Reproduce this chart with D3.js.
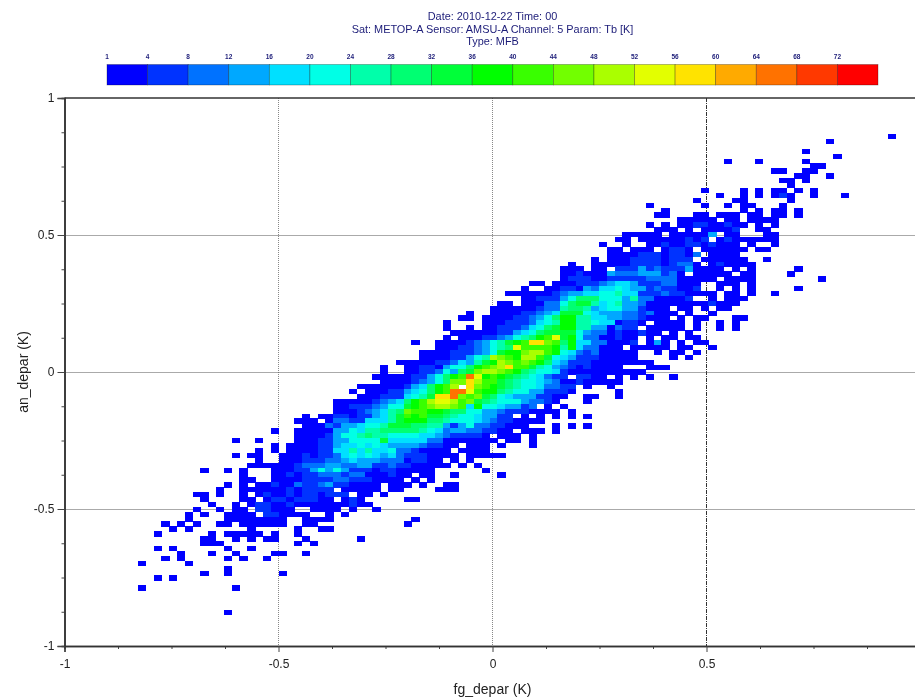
<!DOCTYPE html>
<html lang="en">
<head>
<meta charset="UTF-8">
<title>fg_depar vs an_depar</title>
<script src="https://d3js.org/d3.v7.min.js"></script>
<style>
  html, body { margin: 0; padding: 0; background: #fff; overflow: hidden; }
  svg { display: block; filter: blur(0.35px); font-family: "Liberation Sans", Arial, sans-serif; }
</style>
</head>
<body>
<div id="chart"></div>
<script>
// Header text
const titleLines = [
  "Date: 2010-12-22 Time: 00",
  "Sat: METOP-A Sensor: AMSU-A Channel: 5 Param: Tb [K]",
  "Type: MFB"
];
const xLabel = "fg_depar (K)";
const yLabel = "an_depar (K)";

// Ticks
const xMajor = [-1, -0.5, 0, 0.5];
const yMajor = [-1, -0.5, 0, 0.5, 1];
const xGrid = [-0.5, 0, 0.5];
const yGrid = [-0.5, 0, 0.5];
const minorStep = 0.125;

// Colour classes of the count legend
const legendTicks = [1, 4, 8, 12, 16, 20, 24, 28, 32, 36, 40, 44, 48, 52, 56, 60, 64, 68, 72];
const legendColors = ["#0000ff", "#0033ff", "#0072ff", "#00a8ff", "#00e0ff", "#00ffe6", "#00ffaa", "#00ff72", "#00ff39", "#00ff00",
  "#39ff00", "#72ff00", "#aaff00", "#e3ff00", "#ffe300", "#ffaa00", "#ff7200", "#ff3900", "#ff0000"];

// Histogram bins, in K
const binX0 = -0.99287, binXW = 0.018259;
const binY0 = 0.86861, binYH = 0.017901;

// One line per row of bins from the top: "startColumn:classes ...",
// class is the legend box (base 36, 0 = first box)
const histRows = [
"105:0","97:0","","94:0","98:0","84:0 88:0 94:0","95:00","90:00 94:00","93:00 97:0","91:00 94:0",
"92:0",
"81:0 86:0 88:0 90:00 93:0 95:0",
"83:0 86:0 88:0 90:010 95:0 99:0",
"80:0 85:00 92:0",
"74:0 81:0 84:0 86:00 91:0",
"76:0 86:0 88:0 90:00 93:0",
"75:00 80:00 83:000 87:00 90:00 93:0",
"78:0000 82:0 84:00 87:0000",
"74:0 76:0 78:00110010 86:0 88:0 90:0",
"75:000 79:0 81:00001 88:00",
"71:00000 77:0000 81:03 84:00 89:00",
"70:00 73:000000 79:1 80:0 81:1 83:0 84:1 85:000000",
"68:0 71:0 74:00 76:1 77:00 79:11 81:0 82:1 83:000 87:0 90:0",
"69:00 72:000 76:0 77:11 79:0 81:000000 88:00",
"69:0000 73:1 74:11 76:0 77:11 79:0 80:2 82:0000",
"67:0 69:000 72:11 74:11 76:0 77:11 79:1 81:000000 89:0",
"64:0 67:00000 72:11 74:11 76:0 77:12 79:2 80:0 82:0 83:1 84:0000",
"63:000 67:00 70:111 73:3 74:12 76:1 77:11 79:3 80:0000 85:0 87:0 93:0",
"63:001000 69:32 71:22 73:333 76:12 78:0 80:0000 84:0 86:00 92:0",
"63:0111 67:00 69:1111 73:1 74:22 76:22 78:00000 84:000 87:0 96:0",
"59:00 62:0001 66:11 68:2 69:3 70:44 72:3 73:111 76:22 78:000 83:000 87:0",
"58:0 61:00 63:110 66:32 68:44 70:54 72:33 74:1 75:2 76:11 78:00 80:1 83:0 85:0 87:0 93:0",
"56:0000001 63:233 66:44 68:55 70:6 71:44 73:111 76:2 77:11 79:000 82:0 84:00 87:0 90:0",
"58:00 60:111 63:35 65:777 68:555 71:36 73:22 75:0000 79:1 82:0 84:000",
"55:00 58:000 61:22 63:5 64:7 65:88 67:6 68:4 69:56 71:33 73:2 74:000 77:000000 82:1 83:000",
"54:0000 58:00 60:122 63:6 64:77 66:6 67:34 69:55 71:33 73:1 74:000 78:00 81:0 83:00",
"51:0 54:000 57:01 59:1 60:2 61:34 63:8 64:88 66:5 67:43 69:33 71:22 73:1 74:2 75:000 79:0 82:0",
"50:00 53:000 56:0 57:1 58:1 59:2 60:3 61:5 62:7 63:99 65:6 66:6 67:44 69:33 71:22 73:1 74:000 78:0 80:00 85:00",
"48:0 53:00 55:0 56:1 57:11 59:2 60:4 61:5 62:6 63:99 65:66 67:5 68:44 70:0 71:11 73:0 75:0000 80:0 83:0 85:0",
"48:0 51:0 53:00 55:111 58:2 59:4 60:5 61:7 62:8 63:99 65:66 67:33 69:0 70:2 71:11 74:00000 80:0 83:0 85:0",
"49:0000 53:00 55:11 57:3 58:4 59:5 60:7 61:8 62:8 63:88 65:5 66:3 67:22 69:0 70:1 71:00 73:1 74:00 77:0 79:0",
"48:0 50:000 53:11 55:2 56:3 57:5 58:6 59:7 60:9 61:a 62:d 63:8 64:9 65:5 66:22 68:00 70:1 71:00 74:0 76:00 79:00",
"44:0 47:00 49:0 50:0 51:1 52:2 53:3 54:5 55:6 56:8 57:9 58:a 59:e 60:e 61:b 62:a 63:7 64:9 65:4 66:4 67:22 69:0 70:0 71:0 72:1 74:0 75:3 76:0 78:0 80:00",
"47:00 49:0 50:11 52:2 53:3 54:5 55:6 56:7 57:d 58:a 59:a 60:a 61:a 62:9 63:6 64:9 65:4 66:22 68:000 72:00 74:000 78:00 82:0",
"45:0000 49:111 52:2 53:3 54:5 55:8 56:9 57:9 58:b 59:cc 61:a 62:9 63:5 64:4 65:2 66:12 68:00000 75:0 77:00 80:0",
"45:0000 49:11 51:3 52:5 53:6 54:c 55:b 56:a 57:9 58:c 59:c 60:a 61:8 62:5 63:4 64:3 65:111 68:00000 77:0 79:0",
"42:000 45:00 47:11 49:2 50:4 51:3 52:6 53:8 54:9 55:c 56:b 57:a 58:b 59:a 60:9 61:7 62:4 63:3 64:1 65:1 66:1 67:00000000",
"40:0 43:00 45:1 46:1 47:0 48:3 49:5 50:5 51:7 52:9 53:a 54:b 55:c 56:e 57:a 58:a 59:8 60:6 61:5 62:3 63:2 64:1 65:0 66:1 67:0000 74:000",
"40:0 43:00 45:1 46:1 47:2 48:5 49:3 50:7 51:8 52:b 53:c 54:c 55:b 56:a 57:9 58:7 59:6 60:5 61:5 62:4 63:1 64:000 67:0000000",
"39:0000 43:0 44:1 45:1 46:3 47:5 48:7 49:9 50:a 51:g 52:d 53:9 54:a 55:9 56:8 57:7 58:6 59:5 60:4 61:2 62:11 65:11 67:00 70:0 72:0 74:0 77:0",
"40:000 43:0 44:1 45:2 46:3 47:5 48:7 49:b 50:b 51:e 52:c 53:a 54:a 55:8 56:7 57:6 58:5 59:5 60:4 61:3 62:2 63:0 64:0 65:1 66:00000",
"37:000000 43:1 44:3 45:4 46:7 47:9 48:a 49:c 51:e 52:b 53:a 54:9 55:8 56:7 57:6 58:5 59:5 60:4 61:2 62:2 63:1 64:1 66:0 69:0",
"36:0 38:000 41:1 42:1 43:3 44:4 45:5 46:7 47:9 48:a 49:g 50:g 51:d 52:a 53:9 54:9 55:7 56:6 57:5 58:5 59:3 60:3 61:1 62:1 63:1 64:0 70:0",
"37:000 40:1 41:1 42:1 43:4 44:5 45:6 46:8 47:e 48:e 49:g 50:b 51:a 52:b 53:8 54:7 55:5 56:4 57:3 58:3 59:3 60:1 61:1 62:00 66:00 70:0",
"34:000 37:00 39:1 40:2 41:3 42:4 43:7 44:9 45:a 46:c 47:d 48:d 49:c 50:a 51:b 52:8 53:7 54:6 55:5 56:5 57:5 58:3 59:2 60:2 61:1 62:0 66:0",
"34:00 36:1 37:1 38:1 39:2 40:3 41:5 42:5 43:8 44:9 45:a 46:b 47:c 48:c 49:b 50:a 51:4 52:9 53:5 54:5 55:4 56:3 57:3 58:1 59:2 61:0 63:0",
"34:00 36:0 37:1 38:2 39:3 40:4 41:6 42:7 43:b 44:a 45:a 46:9 47:9 48:8 49:7 50:7 51:5 52:5 53:3 54:3 55:2 56:1 57:1 58:1 59:0000 64:0",
"30:0 32:00 34:1 35:1 36:0 37:1 38:1 39:3 40:4 41:6 42:8 43:a 44:9 45:a 46:8 47:8 48:7 49:6 50:5 51:5 52:4 53:3 54:3 55:11 58:0 60:0 62:0 64:0 66:0",
"29:000 33:0 34:22 36:1 37:1 38:4 39:4 40:4 41:6 42:8 43:9 44:9 45:9 46:7 47:7 48:6 49:5 50:5 51:5 52:4 53:3 54:2 55:1 56:1 57:0000",
"30:000 33:21 35:3 36:3 37:4 38:5 39:5 40:6 41:8 42:8 43:8 44:7 45:7 46:6 47:6 48:3 49:1 50:3 51:5 52:2 53:2 54:1 55:1 56:000 62:0 64:0 66:0",
"26:0 29:00 31:000 34:3 35:3 36:5 37:4 38:6 39:6 40:7 41:7 42:7 43:7 44:7 45:6 46:5 47:4 48:2 49:3 50:3 51:2 52:2 53:1 54:1 55:00 58:000 62:0",
"29:0000 33:1 34:3 35:5 36:5 37:6 38:7 39:6 40:6 41:5 42:5 43:5 44:5 45:4 46:4 47:3 48:2 49:1 50:1 51:1 52:1 53:0 55:000 59:0",
"21:0 24:0 29:000 32:11 34:3 35:3 36:5 37:5 38:5 39:5 40:8 41:4 42:4 43:4 44:4 45:4 46:2 47:2 48:0 49:0 50:0 51:0 52:000 56:00 59:0",
"26:0 28:000 31:0 32:1 33:1 34:3 35:4 36:4 37:5 38:4 39:5 40:4 41:3 42:3 43:3 44:3 45:2 46:1 47:1 48:00 51:000 55:0 59:0",
"24:0 26:0 28:000 31:0 32:1 33:1 34:4 35:4 36:6 37:4 38:6 39:4 40:4 41:5 42:2 43:2 44:1 45:0000 50:000 53:0",
"21:0 23:00 27:00 29:0 30:1 31:0 32:1 33:1 34:2 35:4 36:5 37:4 38:5 39:4 40:3 41:4 42:2 43:1 44:1 45:1 46:0000 51:00000",
"24:0 27:0 28:00 30:11 32:1 33:2 34:2 35:3 36:4 37:3 38:3 39:3 40:2 41:2 42:2 43:0 44:1 45:1 46:0 47:0 49:0 51:0",
"23:000 26:00 28:0 29:1 30:2 31:2 32:2 33:3 34:3 35:2 36:2 37:3 38:3 39:1 40:1 41:2 42:1 43:1 44:000 47:0 48:0 50:0 52:0",
"17:0 20:0 22:0 26:0 27:0 28:0 29:1 30:1 31:3 32:5 33:3 34:5 35:3 36:1 37:1 38:1 39:0 40:1 41:1 42:0 43:0 44:000 53:0",
"22:0 26:00 28:1 29:0 30:1 31:1 32:2 33:2 34:2 35:1 36:2 37:2 38:0 39:0 40:0 41:1 42:0 43:0 45:00 49:0 55:0",
"22:00 26:0 27:0 28:0 29:0 30:1 31:1 32:1 33:1 34:2 35:2 36:1 37:1 38:1 39:0 40:0 41:0 42:0 44:0 46:0",
"20:0 22:0 24:00 26:1 27:0 28:0 29:2 30:1 31:1 32:2 33:3 34:1 35:1 36:0 37:0 38:00 41:00 43:0 45:0 48:00",
"19:0 22:00 24:0 25:00 27:0 28:1 29:0 30:1 31:1 32:1 33:1 35:0 36:0 37:0 38:00 41:00 47:00 49:0",
"16:00 19:0 22:0 24:0 25:1 26:0 27:0 28:1 29:0 30:1 31:1 32:0 33:1 34:1 35:1 37:00 40:0",
"17:0 22:00 25:0 26:1 27:1 28:0 29:1 30:1 31:1 32:0 33:0 35:0 36:1 37:0 43:00",
"18:0 21:0 23:0 24:1 25:1 26:0 27:0 28:1 29:0 30:0 31:0 32:0 33:0 34:0 35:0 36:1 37:0 38:0",
"16:0 19:0 21:00 24:1 25:1 26:0 27:0 28:0 31:0000 36:0 39:0",
"15:0 17:0 20:0000 25:1 26:1 27:0 28:000 33:0 35:0",
"15:0 20:00000000 30:0000 44:0",
"12:0 14:0 16:0 19:00 22:000000 30:00 43:0",
"13:0 15:0 23:0 29:0 32:00",
"11:0 18:0 20:00000 26:0 29:0",
"17:00 21:0 23:0 25:00 30:0 37:0",
"17:000 29:0 31:0",
"11:0 13:0 20:0 23:0",
"14:0 18:0 21:0 26:00 30:0",
"12:0 14:0 20:0 22:0 25:0",
"9:0 15:0",
"20:0",
"17:0 20:0 27:0",
"11:0 13:0",
"",
"9:0 21:0",
"","","","",
"20:0"
];

const width = 915, height = 699;

const x = d3.scaleLinear().domain([-1, 1]).range([64.5, 920.5]);
const y = d3.scaleLinear().domain([-1, 1]).range([646, 98]);
// class index -> lowest count of that legend box
const classCount = c => legendTicks[c];
const color = d3.scaleThreshold().domain(legendTicks.slice(1)).range(legendColors);

// decode the rows into cells
const cells = [];
histRows.forEach((line, r) => {
  line.split(" ").filter(Boolean).forEach(seg => {
    const [start, classes] = seg.split(":");
    [...classes].forEach((ch, k) => {
      cells.push({ col: +start + k, row: r, count: classCount(parseInt(ch, 36)) });
    });
  });
});

const svg = d3.select("#chart").append("svg")
  .attr("width", width)
  .attr("height", height);

// Title
svg.append("g").selectAll("text")
  .data(titleLines)
  .join("text")
  .attr("x", 492.5)
  .attr("y", (d, i) => 20 + i * 12.6)
  .attr("text-anchor", "middle")
  .attr("font-size", 10.9)
  .attr("fill", "#1c1c78")
  .text(d => d);

// Colour bar
const bar = d3.scaleBand().domain(legendTicks).range([107, 878]);
svg.append("g").selectAll("rect")
  .data(legendTicks)
  .join("rect")
  .attr("x", d => bar(d))
  .attr("y", 64.5)
  .attr("width", bar.bandwidth())
  .attr("height", 20.5)
  .attr("fill", d => color(d))
  .attr("stroke", "rgba(0,0,0,0.4)")
  .attr("stroke-width", 0.7);
svg.append("g").selectAll("text")
  .data(legendTicks)
  .join("text")
  .attr("x", d => bar(d))
  .attr("y", 59)
  .attr("text-anchor", "middle")
  .attr("font-size", 6.5)
  .attr("font-weight", "bold")
  .attr("fill", "#1c1c78")
  .text(d => d);

// Grid lines
svg.append("g").selectAll("line")
  .data(xGrid)
  .join("line")
  .attr("x1", d => x(d)).attr("x2", d => x(d))
  .attr("y1", y(1)).attr("y2", y(-1))
  .attr("stroke", d => d === 0.5 ? "#333" : "#888")
  .attr("stroke-dasharray", d => d === 0.5 ? "4,1,1,1" : "1,1");
svg.append("g").selectAll("line")
  .data(yGrid)
  .join("line")
  .attr("x1", x(-1)).attr("x2", width)
  .attr("y1", d => y(d) + 0.5).attr("y2", d => y(d) + 0.5)
  .attr("stroke", "#555")
  .attr("stroke-dasharray", "1,1");

// Histogram cells, overlapped a little so no seams show between them
svg.append("g")
  .attr("shape-rendering", "crispEdges")
  .selectAll("rect")
  .data(cells)
  .join("rect")
  .attr("x", d => x(binX0 + d.col * binXW))
  .attr("y", d => y(binY0 - d.row * binYH))
  .attr("width", x(binXW) - x(0) + 0.4)
  .attr("height", y(0) - y(binYH) + 0.4)
  .attr("fill", d => color(d.count));

// Axes
const minorX = d3.range(-1, 1.001, minorStep).filter(v => !xMajor.includes(v) && v !== 1);
const minorY = d3.range(-1, 1.001, minorStep).filter(v => !yMajor.includes(v));

const axisStyle = g => g
  .call(s => s.selectAll(".domain").attr("stroke", "#333").attr("stroke-width", 1.5))
  .call(s => s.selectAll(".tick line").attr("stroke", "#444"))
  .call(s => s.selectAll(".tick text").attr("fill", "#222").attr("font-size", 12)
    .attr("font-family", '"Liberation Sans", Arial, sans-serif'));

svg.append("g")
  .attr("transform", `translate(0,${y(-1)})`)
  .call(d3.axisBottom(x).tickValues(minorX).tickSize(3).tickFormat(""))
  .call(axisStyle);
svg.append("g")
  .attr("transform", `translate(0,${y(-1)})`)
  .call(d3.axisBottom(x).tickValues(xMajor).tickSize(6).tickPadding(7).tickFormat(d => String(d)))
  .call(axisStyle);
svg.append("g")
  .attr("transform", `translate(${x(-1)},0)`)
  .call(d3.axisLeft(y).tickValues(minorY).tickSize(3).tickFormat(""))
  .call(axisStyle);
svg.append("g")
  .attr("transform", `translate(${x(-1)},0)`)
  .call(d3.axisLeft(y).tickValues(yMajor).tickSize(7).tickPadding(3).tickFormat(d => String(d)))
  .call(axisStyle);
// top frame line
svg.append("line")
  .attr("x1", x(-1)).attr("x2", width)
  .attr("y1", y(1)).attr("y2", y(1))
  .attr("stroke", "#333").attr("stroke-width", 1.5);

// Axis titles
svg.append("text")
  .attr("x", x(0))
  .attr("y", 694)
  .attr("text-anchor", "middle")
  .attr("font-size", 14)
  .attr("fill", "#222")
  .text(xLabel);
svg.append("text")
  .attr("transform", `translate(28,${y(0)}) rotate(-90)`)
  .attr("text-anchor", "middle")
  .attr("font-size", 14)
  .attr("fill", "#222")
  .text(yLabel);
</script>
</body>
</html>
